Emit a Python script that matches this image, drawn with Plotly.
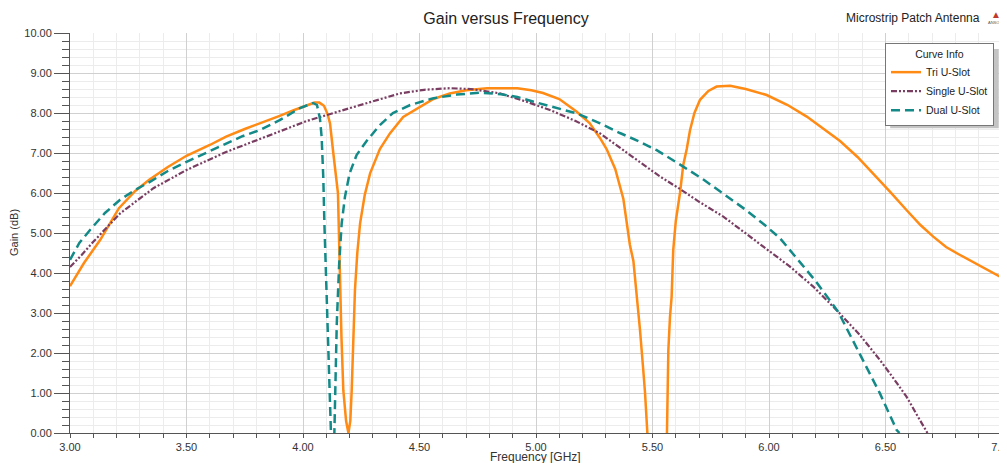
import plotly.graph_objects as go

# ---- data ----
tri_f = [3.00, 3.06, 3.13, 3.21, 3.28, 3.34, 3.42, 3.50, 3.60, 3.67, 3.75, 3.82, 3.90, 3.96,
         4.02, 4.05, 4.07, 4.09, 4.105, 4.116, 4.13, 4.145, 4.15, 4.155, 4.159, 4.165, 4.173,
         4.185, 4.195, 4.203, 4.209, 4.216, 4.223, 4.233, 4.245, 4.265, 4.288, 4.33, 4.373,
         4.43, 4.50, 4.56, 4.63, 4.70, 4.79, 4.87, 4.92, 4.98, 5.03, 5.10, 5.175, 5.23, 5.275,
         5.303, 5.34, 5.375, 5.403, 5.418, 5.435, 5.446, 5.46, 5.468, 5.478, 5.52, 5.562,
         5.568, 5.575, 5.582, 5.589, 5.60, 5.618, 5.632, 5.647, 5.661, 5.68, 5.704, 5.74,
         5.775, 5.833, 5.90, 5.99, 6.08, 6.162, 6.23, 6.305, 6.38, 6.448, 6.52, 6.59, 6.65,
         6.705, 6.76, 6.82, 6.90, 6.99, 7.00]
tri_g = [3.67, 4.25, 4.83, 5.62, 6.05, 6.33, 6.65, 6.93, 7.20, 7.41, 7.60, 7.75, 7.93, 8.07,
         8.20, 8.26, 8.26, 8.18, 7.98, 7.74, 7.00, 6.30, 6.00, 4.80, 3.60, 2.40, 1.07,
         0.30, 0.00, 0.30, 1.07, 2.30, 3.575, 4.50, 5.24, 5.95, 6.49, 7.10, 7.49,
         7.90, 8.15, 8.35, 8.49, 8.57, 8.62, 8.63, 8.62, 8.57, 8.50, 8.35, 8.03, 7.75, 7.37,
         7.10, 6.60, 5.85, 4.70, 4.30, 3.30, 2.60, 1.60, 1.00, 0.00, -4.0, 0.00,
         2.07, 2.90, 3.40, 4.575, 5.30, 6.00, 6.70, 7.10, 7.57, 8.00, 8.33, 8.55,
         8.66, 8.68, 8.60, 8.45, 8.20, 7.91, 7.63, 7.30, 6.90, 6.49, 6.03, 5.575, 5.20,
         4.91, 4.65, 4.45, 4.20, 3.91, 3.88]

single_f = [3.00, 3.05, 3.10, 3.215, 3.358, 3.50, 3.672, 3.844, 3.987, 4.016, 4.20, 4.416,
            4.52, 4.63, 4.72, 4.845, 4.95, 5.06, 5.17, 5.275, 5.375, 5.446, 5.53, 5.618,
            5.70, 5.804, 5.876, 5.99, 6.09, 6.19, 6.297, 6.39, 6.476, 6.53, 6.59, 6.64,
            6.67, 6.68]
single_g = [4.15, 4.45, 4.78, 5.49, 6.12, 6.575, 7.03, 7.41, 7.74, 7.80, 8.12, 8.49,
            8.58, 8.62, 8.60, 8.49, 8.30, 8.075, 7.80, 7.49, 7.07, 6.78, 6.42, 6.10,
            5.78, 5.41, 5.10, 4.60, 4.16, 3.66, 3.03, 2.45, 1.825, 1.40, 0.91, 0.40,
            0.075, 0.00]

dual_f = [3.00, 3.04, 3.086, 3.15, 3.215, 3.28, 3.343, 3.42, 3.50, 3.59, 3.672, 3.74, 3.815,
          3.90, 3.987, 4.043, 4.06, 4.073, 4.08, 4.087, 4.092, 4.10, 4.108, 4.116, 4.12,
          4.127, 4.134, 4.14, 4.145, 4.155, 4.166, 4.18, 4.20, 4.23, 4.273, 4.33, 4.386,
          4.46, 4.56, 4.66, 4.76, 4.85, 4.92, 4.99, 5.08, 5.175, 5.275, 5.36, 5.446, 5.518,
          5.632, 5.72, 5.804, 5.90, 5.99, 6.047, 6.10, 6.20, 6.297, 6.39, 6.476, 6.548, 6.56]
dual_g = [4.33, 4.75, 5.075, 5.50, 5.83, 6.08, 6.28, 6.55, 6.78, 7.02, 7.24, 7.42, 7.575,
          7.82, 8.12, 8.25, 8.20, 7.85, 7.40, 6.40, 5.20, 3.60, 2.20, 1.00, 0.00,
          -2.0, 0.00, 1.50, 2.74, 4.20, 5.24, 5.90, 6.49, 6.95, 7.30, 7.70, 8.00,
          8.20, 8.37, 8.46, 8.51, 8.47, 8.40, 8.28, 8.13, 7.99, 7.74, 7.50, 7.28, 7.07,
          6.66, 6.33, 5.98, 5.58, 5.16, 4.87, 4.50, 3.80, 3.03, 1.99, 0.99, 0.075, 0.00]

series_names = ["Tri U-Slot", "Single U-Slot", "Dual U-Slot"]
series_colors = ["#FF8A14", "#7A3D62", "#148A88"]

x_ticks = [3.0, 3.5, 4.0, 4.5, 5.0, 5.5, 6.0, 6.5, 7.0]
y_ticks = [0, 1, 2, 3, 4, 5, 6, 7, 8, 9, 10]

FONT = "Liberation Sans, Arial, sans-serif"

# The page body has an 8px default margin, so the figure is sized to fill the rest.
W, H = 999, 455

fig = go.Figure()
fig.add_trace(go.Scatter(x=tri_f, y=tri_g, mode="lines", name=series_names[0],
                         line=dict(color=series_colors[0], width=2.5)))
fig.add_trace(go.Scatter(x=single_f, y=single_g, mode="lines", name=series_names[1],
                         line=dict(color=series_colors[1], width=2.2,
                                   dash="6px,2px,2px,2px,2px,2px")))
fig.add_trace(go.Scatter(x=dual_f, y=dual_g, mode="lines", name=series_names[2],
                         line=dict(color=series_colors[2], width=2.5, dash="9px,5px")))

# legend drop shadow (behind the legend box, offset right/down)
fig.add_shape(type="rect", xref="paper", yref="paper",
              x0=0.88, x1=0.9965, y0=0.762, y1=0.96,
              fillcolor="#C4C4C4", line=dict(width=0), layer="above")

fig.update_layout(
    width=W, height=H,
    margin=dict(l=62, r=5, t=25, b=30, autoexpand=False),
    paper_bgcolor="white", plot_bgcolor="white",
    font=dict(family=FONT, size=11, color="#333333"),
    title=dict(text="Gain versus Frequency", x=498 / W, xanchor="center",
               y=1 - 10 / H, yanchor="middle", yref="container",
               font=dict(family=FONT, size=16, color="#222222")),
    showlegend=True,
    legend=dict(x=0.9914, xanchor="right", y=0.975, yanchor="top",
                bgcolor="white", bordercolor="#777777", borderwidth=1,
                font=dict(family=FONT, size=10.5, color="#222222"),
                title=dict(text="Curve Info", side="top center",
                           font=dict(family=FONT, size=10.5, color="#222222")),
                itemwidth=30, tracegroupgap=0),
    xaxis=dict(range=[3.0, 7.0], tickvals=x_ticks,
               ticktext=[f"{v:.2f}" for v in x_ticks],
               automargin=False, ticklabeloverflow="allow",
               showline=True, linecolor="#555555", linewidth=1,
               ticks="outside", ticklen=4, tickcolor="#555555",
               showgrid=True, gridcolor="#D0D0D0", gridwidth=1,
               zeroline=False,
               tickfont=dict(family=FONT, size=11, color="#333333"),
               minor=dict(dtick=0.1, ticks="outside", ticklen=4, tickcolor="#555555",
                          showgrid=True, gridcolor="#ECECEC", gridwidth=1)),
    yaxis=dict(range=[0, 10], tickvals=y_ticks,
               ticktext=[f"{v:.2f}" for v in y_ticks],
               automargin=False, ticklabeloverflow="allow",
               showline=True, linecolor="#555555", linewidth=1,
               ticks="outside", ticklen=15, tickcolor="#555555",
               showgrid=True, gridcolor="#D0D0D0", gridwidth=1,
               zeroline=False,
               tickfont=dict(family=FONT, size=11, color="#333333"),
               minor=dict(dtick=0.2, ticks="outside", ticklen=7, tickcolor="#555555",
                          showgrid=True, gridcolor="#ECECEC", gridwidth=1)),
)

fig.add_annotation(text="Gain (dB)", xref="paper", yref="paper", x=0, y=0.5,
                   xshift=-56, xanchor="center", yanchor="middle", textangle=-90,
                   showarrow=False, font=dict(family=FONT, size=11, color="#333333"))
fig.add_annotation(text="Frequency [GHz]", xref="paper", yref="paper", x=0.5, y=0,
                   yshift=-24, xshift=-1, xanchor="center", yanchor="middle",
                   showarrow=False, font=dict(family=FONT, size=12, color="#333333"))
fig.add_annotation(text="Microstrip Patch Antenna", xref="paper", yref="paper",
                   x=1, y=1, xshift=-20, yshift=15, xanchor="right", yanchor="middle",
                   showarrow=False, font=dict(family=FONT, size=12, color="#222222"))
fig.add_annotation(text="▲", xref="paper", yref="paper", x=1, y=1, xshift=-6, yshift=19,
                   xanchor="center", yanchor="middle", showarrow=False,
                   font=dict(family=FONT, size=10, color="#C0392B"))
fig.add_annotation(text="ANSOFT", xref="paper", yref="paper", x=1, y=1, xshift=-6, yshift=11,
                   xanchor="center", yanchor="middle", showarrow=False,
                   font=dict(family=FONT, size=4, color="#555555"))

fig.write_html("out.html")
